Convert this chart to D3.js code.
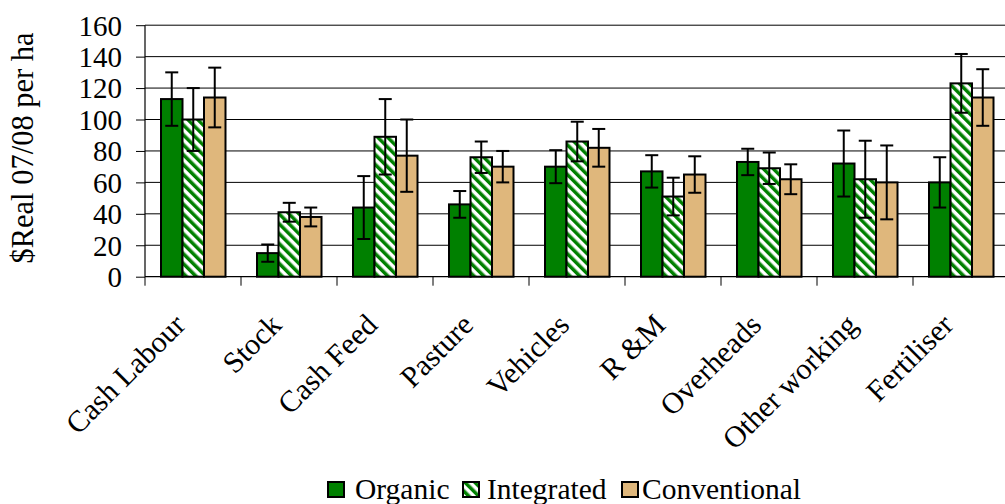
<!DOCTYPE html>
<html><head><meta charset="utf-8">
<script src="https://cdn.jsdelivr.net/npm/d3@7/dist/d3.min.js"></script>
<style>body{margin:0;background:#fff}svg{display:block}text{font-family:"Liberation Serif","Times New Roman",serif;fill:#000}</style>
</head><body>
<svg id="c" width="1005" height="504"></svg>
<script>
const categories = ["Cash Labour","Stock","Cash Feed","Pasture","Vehicles","R &M","Overheads","Other working","Fertiliser"];
const seriesNames = ["Organic","Integrated","Conventional"];
const organic      = [113, 15, 44, 46, 70, 67, 73, 72, 60];
const integrated   = [100, 41, 89, 76, 86, 51, 69, 62, 123];
const conventional = [114, 38, 77, 70, 82, 65, 62, 60, 114];
const organicErr      = [17, 5.5, 20, 8.5, 10.5, 10.3, 8.4, 21, 16];
const integratedErr   = [20, 6, 24, 10, 12.6, 12, 10, 24.5, 18.7];
const conventionalErr = [19, 6, 23, 10, 12, 11.6, 9.5, 23.5, 18];
const yTicks = [0,20,40,60,80,100,120,140,160];
const yTitle = "$Real 07/08 per ha";

const values = [organic, integrated, conventional];
const errs = [organicErr, integratedErr, conventionalErr];
const fills = ["#008000","url(#hatch)","#DFB77C"];

const svg = d3.select("#c");
const defs = svg.append("defs");
const pat = defs.append("pattern").attr("id","hatch").attr("patternUnits","userSpaceOnUse")
  .attr("width",7).attr("height",7).attr("patternTransform","rotate(-45)");
pat.append("rect").attr("width",7).attr("height",7).attr("fill","#fff");
pat.append("rect").attr("x",0).attr("width",3.5).attr("height",7).attr("fill","#008000");

const L = 145, R = 1009, T = 25.2, B = 276.7;
const x0 = d3.scaleBand().domain(categories).range([L,R]).paddingInner(0).paddingOuter(0);
const x1 = d3.scaleBand().domain(seriesNames).range([16, 80.5]).padding(0);
const y = d3.scaleLinear().domain([0,160]).range([B,T]);

// gridlines
svg.append("g").selectAll("line").data(yTicks.filter(d=>d>0)).join("line")
  .attr("x1",L).attr("x2",R).attr("y1",d=>y(d)).attr("y2",d=>y(d))
  .attr("stroke","#000").attr("stroke-width",1);

// bars
const groups = svg.append("g").selectAll("g").data(categories).join("g")
  .attr("transform",c=>`translate(${x0(c)},0)`);
groups.each(function(c,i){
  const g = d3.select(this);
  seriesNames.forEach((s,k)=>{
    const v = values[k][i];
    g.append("rect").attr("x",x1(s)).attr("y",y(v)).attr("width",x1.bandwidth()).attr("height",y(0)-y(v))
      .attr("fill",fills[k]).attr("stroke","#000").attr("stroke-width",2);
  });
  seriesNames.forEach((s,k)=>{
    const v = values[k][i], e = errs[k][i];
    const cx = x1(s)+x1.bandwidth()/2, hw = 6.5;
    g.append("line").attr("x1",cx).attr("x2",cx).attr("y1",y(v+e)).attr("y2",y(v-e)).attr("stroke","#000").attr("stroke-width",2);
    [v+e,v-e].forEach(t=>g.append("line").attr("x1",cx-hw).attr("x2",cx+hw).attr("y1",y(t)).attr("y2",y(t)).attr("stroke","#000").attr("stroke-width",2));
  });
});

// y axis
const ya = svg.append("g").attr("transform",`translate(${L},0)`)
  .call(d3.axisLeft(y).tickValues(yTicks).tickSize(9).tickPadding(14).tickFormat(d3.format("d")));
ya.select(".domain").attr("stroke","#000").attr("stroke-width",1.2).attr("d",`M-0,${T}V${B}`);
ya.selectAll(".tick line").attr("stroke","#000");
ya.selectAll(".tick text").attr("font-size",29).attr("font-family","Liberation Serif").attr("fill","#000").attr("dy","0.34em");

// x axis
const xa = svg.append("g").attr("transform",`translate(0,${B})`);
xa.append("line").attr("x1",L).attr("x2",R).attr("stroke","#000").attr("stroke-width",1.2);
xa.selectAll("line.tk").data(d3.range(categories.length+1)).join("line").attr("class","tk")
  .attr("x1",i=>L+i*x0.bandwidth()).attr("x2",i=>L+i*x0.bandwidth()).attr("y1",0).attr("y2",9).attr("stroke","#000");
xa.selectAll("text").data(categories).join("text")
  .attr("text-anchor","end").attr("font-size",30)
  .attr("transform",c=>`translate(${x0(c)+x0.bandwidth()/2-6},${50}) rotate(-45)`)
  .text(c=>c);

// y title
svg.append("text").attr("transform",`translate(33,${148}) rotate(-90)`).attr("text-anchor","middle")
  .attr("font-size",30.5).text(yTitle);

// legend
const leg = [{n:"Organic",bx:328,tx:355},{n:"Integrated",bx:463,tx:487},{n:"Conventional",bx:622,tx:642}];
leg.forEach((d,k)=>{
  svg.append("rect").attr("x",d.bx).attr("y",482).attr("width",16).attr("height",15)
    .attr("fill",fills[k]).attr("stroke","#000").attr("stroke-width",2);
  svg.append("text").attr("x",d.tx).attr("y",499).attr("font-size",29.5).text(seriesNames[k]);
});
</script>
</body></html>
